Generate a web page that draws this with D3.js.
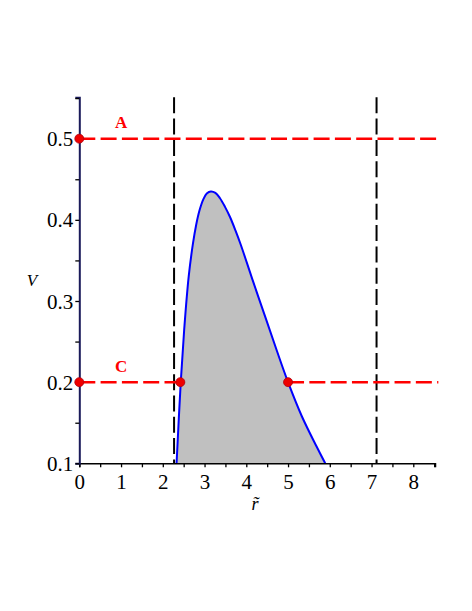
<!DOCTYPE html>
<html><head><meta charset="utf-8">
<script src="https://cdn.jsdelivr.net/npm/d3@7"></script>
<style>body{margin:0;background:#fff}svg{display:block}</style>
</head><body>
<script>
// data
const curveR = [2.33, 2.43, 2.52, 2.62, 2.72, 2.80, 2.88, 2.97, 3.06, 3.15, 3.26, 3.37, 3.49, 3.61, 3.74, 3.87, 4.15, 4.45, 4.73, 5.0, 5.33, 5.69, 5.89];
const curveV = [0.1, 0.2, 0.27, 0.33, 0.37, 0.394, 0.4117, 0.4252, 0.4328, 0.435, 0.4333, 0.4266, 0.416, 0.4035, 0.387, 0.369, 0.326, 0.281, 0.239, 0.2, 0.158, 0.12, 0.1];
const vLinesR = [2.27, 7.12];
const hLines = [ {v:0.5, r0:0, r1:8.6}, {v:0.2, r0:0, r1:2.42}, {v:0.2, r0:5.0, r1:8.6} ];
const pointR = [0, 0, 2.42, 5.0];
const pointV = [0.5, 0.2, 0.2, 0.2];
const labelText = ["A", "C"];
const labelR = [1.0, 1.0];
const labelV = [0.513, 0.213];
const xTicks = [0,1,2,3,4,5,6,7,8];
const yTicks = [0.1,0.2,0.3,0.4,0.5];

const W = 472, H = 611;
const svg = d3.select("body").append("svg").attr("width", W).attr("height", H);
const x = d3.scaleLinear().domain([0, 8.52]).range([79.3, 435]);
const y = d3.scaleLinear().domain([0.1, 0.551]).range([463.3, 97.3]);

const pts = curveR.map((r,i)=>[r, curveV[i]]);
const curve = d3.curveCatmullRom.alpha(0.5);
svg.append("path").datum(pts)
  .attr("d", d3.area().x(d=>x(d[0])).y0(y(0.1)).y1(d=>y(d[1])).curve(curve))
  .attr("fill", "#c0c0c0");
svg.append("path").datum(pts)
  .attr("d", d3.line().x(d=>x(d[0])).y(d=>y(d[1])).curve(curve))
  .attr("fill", "none").attr("stroke", "#0000ff").attr("stroke-width", 2);

// vertical dashed lines
vLinesR.forEach(r => {
  svg.append("line").attr("x1", x(r)).attr("x2", x(r)).attr("y1", y(0.551)).attr("y2", y(0.1))
    .attr("stroke", "#000").attr("stroke-width", 2).attr("stroke-dasharray", "16,5.3");
});
// horizontal red dashed
hLines.forEach(h => {
  svg.append("line").attr("x1", x(h.r0)).attr("x2", x(h.r1)).attr("y1", y(h.v)).attr("y2", y(h.v))
    .attr("stroke", "#ff0000").attr("stroke-width", 2.5).attr("stroke-dasharray", "16,5.3");
});

// axes
const xAxis = d3.axisBottom(x).tickValues(d3.range(0, 8.51, 0.5)).tickSize(4)
  .tickFormat(d => xTicks.includes(d) ? d3.format("d")(d) : "");
const gx = svg.append("g").attr("transform", `translate(0,${y(0.1)})`).call(xAxis);
gx.select(".domain").attr("stroke", "#000").attr("stroke-width", 1.5);
gx.selectAll(".tick line").attr("stroke", "#000").attr("stroke-width", 1.3);
gx.selectAll(".tick text").attr("font-family", "Liberation Serif").attr("font-size", 21).attr("fill", "#000").attr("dy", "0.9em");

const yAxis = d3.axisLeft(y).tickValues(d3.range(0.1, 0.5501, 0.05)).tickSize(4)
  .tickFormat(d => yTicks.some(t => Math.abs(t-d) < 1e-6) ? d3.format(".1f")(d) : "");
const gy = svg.append("g").attr("transform", `translate(${x(0)},0)`).call(yAxis);
gy.select(".domain").attr("stroke", "#1a1a5a").attr("stroke-width", 2);
gy.selectAll(".tick line").attr("stroke", "#000").attr("stroke-width", 1.3);
gy.selectAll(".tick text").attr("font-family", "Liberation Serif").attr("font-size", 21).attr("fill", "#000").attr("dy", "0.34em").attr("x", -6);

// points
pointR.forEach((r,i) => {
  svg.append("circle").attr("cx", x(r)).attr("cy", y(pointV[i])).attr("r", 4.5)
    .attr("fill", "#ee0000").attr("stroke", "#b00010").attr("stroke-width", 0.8);
});

// labels
labelText.forEach((t,i) => {
  svg.append("text").attr("x", x(labelR[i])).attr("y", y(labelV[i]))
    .attr("text-anchor", "middle").attr("font-family", "Liberation Serif").attr("font-weight", "bold")
    .attr("font-size", 17).attr("fill", "#ff0000").text(t);
});

// axis titles
svg.append("text").attr("x", 32).attr("y", 286).attr("text-anchor", "middle")
  .attr("font-family", "Liberation Serif").attr("font-style", "italic").attr("font-size", 17).text("V");
svg.append("text").attr("x", 255).attr("y", 510).attr("text-anchor", "middle")
  .attr("font-family", "Liberation Serif").attr("font-style", "italic").attr("font-size", 18).text("r\u0303");
</script>
</body></html>
